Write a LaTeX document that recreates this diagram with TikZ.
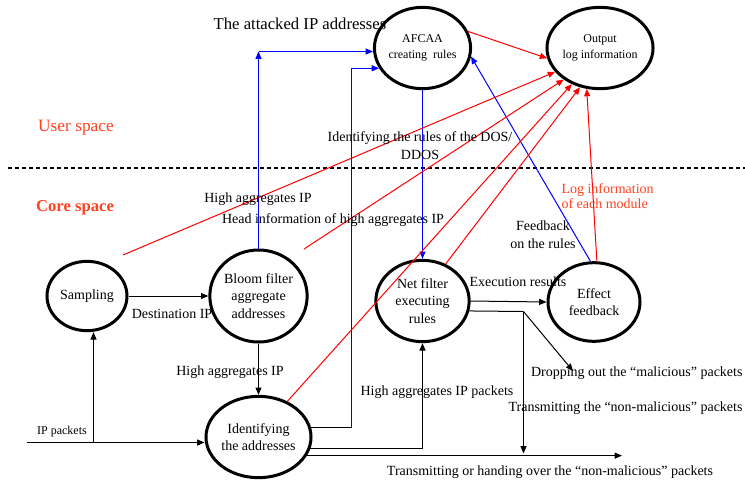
\documentclass[tikz,border=0pt]{standalone}
\usepackage{fontspec}
\setmainfont{Liberation Serif}
\usetikzlibrary{shapes.geometric,arrows.meta}
\definecolor{spacered}{RGB}{255,66,32}
\tikzset{every picture/.style={line width=0.75pt}}
\tikzset{
  proc/.style={ellipse,draw,line width=2.25pt,inner sep=0pt,align=center,font=\fontsize{10.5}{13}\selectfont},
  smallproc/.style={proc,font=\fontsize{9}{12}\selectfont},
  lbl/.style={inner sep=0.75pt,align=center,font=\fontsize{10.5}{13.5}\selectfont},
  flow/.style={-{Triangle[length=5.5pt,width=4.5pt]}},
  blueflow/.style={flow,color=blue},
  logflow/.style={flow,color=red},
}

\begin{document}
\begin{tikzpicture}[x=0.75pt,y=0.75pt,yscale=-1,xscale=1]
\useasboundingbox (0,0) rectangle (745,483);

%Ellipses
\node[proc,minimum width=60pt,minimum height=52pt] (samp) at (87,296) {Sampling};
\node[proc,minimum width=68pt,minimum height=69pt] (bloom) at (258.5,296) {Bloom filter\\aggregate\\addresses};
\node[proc,minimum width=68pt,minimum height=61pt] (idaddr) at (258.5,437) {Identifying\\the addresses};
\node[proc,minimum width=70pt,minimum height=61pt] (netf) at (422.5,301) {Net filter\\executing\\rules};
\node[proc,minimum width=69pt,minimum height=59pt] (effect) at (594,302) {Effect\\feedback};
\node[smallproc,minimum width=69pt,minimum height=61pt] (afcaa) at (422.5,48) {AFCAA\\creating~~rules};
\node[smallproc,minimum width=69pt,minimum height=61pt] (output) at (600,48) {Output\\log information};

%Bend points
\coordinate (ipin) at (27,442.5);
\coordinate (ipup) at (93.5,442.5);
\coordinate (bloomtop) at (258.5,51.5);
\coordinate (bend1) at (351.5,429.5);
\coordinate (netin) at (422.5,447.5);
\coordinate (split) at (523.5,311.5);
\coordinate (drop) at (573,371);
\coordinate (longend) at (622,453.5);
\coordinate (redA) at (123,255);
\coordinate (redB) at (304,249);

%Dashed border of the spaces
\draw [dash pattern={on 3pt off 2.25pt},line width=1.5pt] (8,168) -- (745,168);

%Straight Lines
\draw [flow] (samp.east) -- (bloom.west);
\draw [flow] (bloom.south) -- (idaddr.north);
\draw [flow] (ipin) -- (ipin -| idaddr.west);
\draw [flow] (ipup) -- (ipup |- samp.south);
\draw (idaddr.10) -- (idaddr.10 -| bend1);
\draw [flow] (idaddr.-13) -- (idaddr.-13 -| netin) -- (netf.south);
\draw [flow] (idaddr.-21) -- (idaddr.-21 -| longend);
\draw [flow] (netf.east) -- (effect.west);
\draw (netf.-12) -- (split);
\draw [flow] (split) -- (split |- longend);
\draw [flow] (split) -- (drop);

%Blue lines
\draw [blueflow] (bloom.north) -- (bloomtop);
\draw [blueflow] (bloomtop) -- (bloomtop -| afcaa.west);
\draw [blueflow] (idaddr.10 -| bend1) |- (afcaa.205);
\draw [blueflow] (afcaa.south) -- (netf.north);
\draw [blueflow] (effect.95) -- (afcaa.-10);

%Red lines
\draw [logflow] (afcaa.20) -- (output.191);
\draw [logflow] (redA) -- (output.208);
\draw [logflow] (redB) -- (output.221);
\draw [logflow] (idaddr.51) -- (output.232);
\draw [logflow] (netf.58) -- (output.243);
\draw [logflow] (effect.86) -- (output.252);

% Text Node
\node[lbl,text=spacered,font=\fontsize{13}{15}\selectfont] (user) at (76,128) {User space};
% Text Node
\node[lbl,text=spacered,font=\fontsize{12.5}{15}\bfseries] (core) at (75,208) {Core space};
% Text Node
\node[lbl,font=\fontsize{12.5}{15}\selectfont] (attacked) at (300,24) {The attacked IP addresses};
% Text Node
\node[lbl] (rulesdos) at (420,146) {Identifying the rules of the DOS/\\DDOS};
% Text Node
\node[lbl] (highip1) at (258,199) {High aggregates IP};
% Text Node
\node[lbl] (headinfo) at (333,220) {Head information of high aggregates IP};
% Text Node
\node[lbl] (feedback) at (543,235) {Feedback\\on the rules};
% Text Node
\node[lbl,text=spacered,align=left,anchor=west,font=\fontsize{10.5}{11.5}\selectfont] (loginfo) at (560,196) {Log information\\of each module};
% Text Node
\node[lbl] (destip) at (172,314) {Destination IP};
% Text Node
\node[lbl] (highip2) at (230,372) {High aggregates IP};
% Text Node
\node[lbl,font=\fontsize{9}{11}\selectfont] (ippack) at (62,432) {IP packets};
% Text Node
\node[lbl] (highpack) at (437,392) {High aggregates IP packets};
% Text Node
\node[lbl] (exec) at (518,282) {Execution results};
% Text Node
\node[lbl,anchor=east] (droptxt) at (744,373) {Dropping out the “malicious” packets};
% Text Node
\node[lbl,anchor=east] (transtxt) at (744,408) {Transmitting the “non-malicious” packets};
% Text Node
\node[lbl] (handtxt) at (550,472) {Transmitting or handing over the “non-malicious” packets};

\end{tikzpicture}
\end{document}
